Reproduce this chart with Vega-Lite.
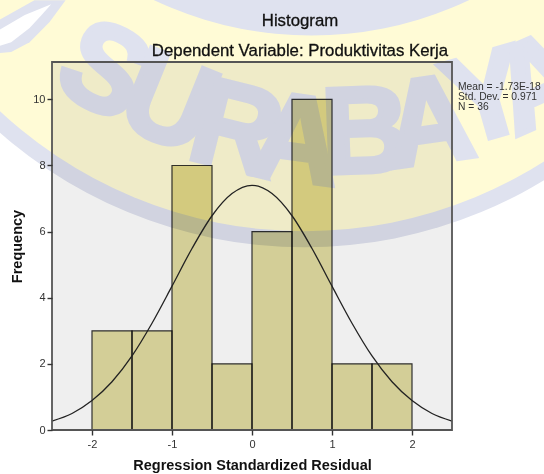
{
"$schema":"https://vega.github.io/schema/vega-lite/v6.json",
"width":400,"height":368,
"autosize":{"type":"none"},
"padding":{"left":52,"top":62,"right":92,"bottom":44},
"background":"#ffffff",
"config":{"view":{"stroke":null},"font":"Liberation Sans"},
"data":{"values":[{"k":1}]},
"resolve":{"axis":{"x":"independent","y":"independent"}},
"datasets":{
"bars":[{"bin_start":-2,"bin_end":-1.5,"count":3},{"bin_start":-1.5,"bin_end":-1,"count":3},{"bin_start":-1,"bin_end":-0.5,"count":8},{"bin_start":-0.5,"bin_end":0,"count":2},{"bin_start":0,"bin_end":0.5,"count":6},{"bin_start":0.5,"bin_end":1,"count":10},{"bin_start":1,"bin_end":1.5,"count":2},{"bin_start":1.5,"bin_end":2,"count":2}],
"curve":[{"r":-2.5,"f":0.27},{"r":-2.25,"f":0.5},{"r":-2,"f":0.89},{"r":-1.75,"f":1.46},{"r":-1.5,"f":2.24},{"r":-1.25,"f":3.23},{"r":-1,"f":4.35},{"r":-0.75,"f":5.49},{"r":-0.5,"f":6.48},{"r":-0.25,"f":7.15},{"r":0,"f":7.4},{"r":0.25,"f":7.15},{"r":0.5,"f":6.48},{"r":0.75,"f":5.49},{"r":1,"f":4.35},{"r":1.25,"f":3.23},{"r":1.5,"f":2.24},{"r":1.75,"f":1.46},{"r":2,"f":0.89},{"r":2.25,"f":0.5},{"r":2.5,"f":0.27}],
"leafBlue":[{"o":1,"a":-3.16,"b":12.4},{"o":2,"a":-2.72,"b":13},{"o":3,"a":-2.33,"b":13},{"o":4,"a":-2.53,"b":12.34},{"o":5,"a":-2.78,"b":11.73},{"o":6,"a":-3.01,"b":11.43},{"o":7,"a":-3.16,"b":11.4}],
"leafWhite":[{"o":1,"a":-2.51,"b":12.88},{"o":2,"a":-2.84,"b":12.55},{"o":3,"a":-3.16,"b":12.1},{"o":4,"a":-3.16,"b":11.61},{"o":5,"a":-3.01,"b":11.73},{"o":6,"a":-2.78,"b":12.16},{"o":7,"a":-2.63,"b":12.55}],
"letters":[
{"t":"S","a":-1.86,"b":10.8,"r":28},{"t":"U","a":-1.05,"b":9.83,"r":22},{"t":"R","a":-0.2,"b":9.01,"r":14},{"t":"A","a":0.56,"b":8.68,"r":8},{"t":"B","a":1.42,"b":8.92,"r":-2},{"t":"A","a":2.22,"b":9.22,"r":-8},{"t":"Y","a":2.95,"b":9.98,"r":-16},{"t":"A","a":3.6,"b":10.43,"r":-24}],
"legendText":[{"t":"Mean = -1.73E-18","a":2.575,"b":10.36},{"t":"Std. Dev. = 0.971","a":2.575,"b":10.06},{"t":"N = 36","a":2.575,"b":9.76}]
},
"layer":[
{"mark":{"type":"point","filled":true,"opacity":1,"size":853776,"color":"#DFE2EF"},"encoding":{"x":{"datum":0.656,"type":"quantitative","scale":{"domain":[-2.5,2.5],"nice":false,"zero":false},"axis":null},"y":{"datum":19.5,"type":"quantitative","scale":{"domain":[0,11.13],"nice":false,"zero":false},"axis":null}}},
{"mark":{"type":"point","filled":true,"opacity":1,"size":795664,"color":"#FFFBD6"},"encoding":{"x":{"datum":0.656,"type":"quantitative","axis":null},"y":{"datum":19.5,"type":"quantitative","axis":null}}},
{"mark":{"type":"point","filled":true,"opacity":1,"size":541696,"color":"#DFE2EF"},"encoding":{"x":{"datum":0.744,"type":"quantitative","axis":null},"y":{"datum":23.06,"type":"quantitative","axis":null}}},
{"data":{"name":"leafBlue"},"mark":{"type":"line","fill":"#DFE2EF","stroke":null,"clip":false},"encoding":{"x":{"field":"a","type":"quantitative","axis":null},"y":{"field":"b","type":"quantitative","axis":null},"order":{"field":"o"}}},
{"data":{"name":"leafWhite"},"mark":{"type":"line","fill":"#ffffff","stroke":null,"clip":false},"encoding":{"x":{"field":"a","type":"quantitative","axis":null},"y":{"field":"b","type":"quantitative","axis":null},"order":{"field":"o"}}},
{"data":{"name":"letters"},"mark":{"type":"text","font":"Liberation Sans","fontWeight":"bold","fontSize":122,"fill":"#DFE2EF","stroke":"#DFE2EF","strokeWidth":5,"align":"center","baseline":"middle"},"encoding":{"x":{"field":"a","type":"quantitative","axis":null},"y":{"field":"b","type":"quantitative","axis":null},"text":{"field":"t"},"angle":{"field":"r","type":"quantitative","scale":null}}},
{"mark":{"type":"rect","fill":"#EFEFEF","blend":"multiply"},"encoding":{"x":{"datum":-2.5,"type":"quantitative","axis":{"orient":"bottom","title":"Regression Standardized Residual","values":[-2,-1,0,1,2],"grid":false,"domain":false,"tickSize":5,"tickColor":"#333333","tickWidth":1.4,"labelFontSize":11,"labelColor":"#333333","labelPadding":3,"labelExpr":"'' + datum.value","titleFontSize":14.5,"titleFontWeight":"bold","titleColor":"#111111","titlePadding":9,"zindex":1}},"x2":{"datum":2.5},"y":{"datum":0,"type":"quantitative","axis":{"orient":"left","title":"Frequency","values":[0,2,4,6,8,10],"grid":false,"domain":false,"tickSize":5,"tickColor":"#333333","tickWidth":1.4,"labelFontSize":11,"labelColor":"#333333","labelPadding":2,"titleFontSize":14.5,"titleFontWeight":"bold","titleColor":"#111111","titleX":-28,"zindex":1,"format":"d"}},"y2":{"datum":11.13}}},
{"data":{"name":"bars"},"mark":{"type":"rect","fill":"#E1DCA1","stroke":"#333333","strokeWidth":1.2,"blend":"multiply"},"encoding":{"x":{"field":"bin_start","type":"quantitative","axis":null},"x2":{"field":"bin_end"},"y":{"field":"count","type":"quantitative","axis":null}}},
{"data":{"name":"curve"},"mark":{"type":"line","stroke":"#222222","strokeWidth":1.3,"interpolate":"monotone"},"encoding":{"x":{"field":"r","type":"quantitative","axis":null},"y":{"field":"f","type":"quantitative","axis":null}}},
{"mark":{"type":"rect","fill":null,"stroke":"#555555","strokeWidth":1.8},"encoding":{"x":{"datum":-2.5,"type":"quantitative","axis":null},"x2":{"datum":2.5},"y":{"datum":0,"type":"quantitative","axis":null},"y2":{"datum":11.13}}},
{"mark":{"type":"text","text":"Histogram","fontSize":16.8,"fontWeight":"normal","fill":"#111111","stroke":"#111111","strokeWidth":0.3,"align":"center","baseline":"middle"},"encoding":{"x":{"datum":0.6,"type":"quantitative","axis":null},"y":{"datum":12.37,"type":"quantitative","axis":null}}},
{"mark":{"type":"text","text":"Dependent Variable: Produktivitas Kerja","fontSize":16.8,"fontWeight":"normal","fill":"#111111","stroke":"#111111","strokeWidth":0.3,"align":"center","baseline":"middle"},"encoding":{"x":{"datum":0.6,"type":"quantitative","axis":null},"y":{"datum":11.45,"type":"quantitative","axis":null}}},
{"data":{"name":"legendText"},"mark":{"type":"text","fontSize":10.3,"fill":"#333333","align":"left","baseline":"middle"},"encoding":{"x":{"field":"a","type":"quantitative","axis":null},"y":{"field":"b","type":"quantitative","axis":null},"text":{"field":"t"}}}
]
}
